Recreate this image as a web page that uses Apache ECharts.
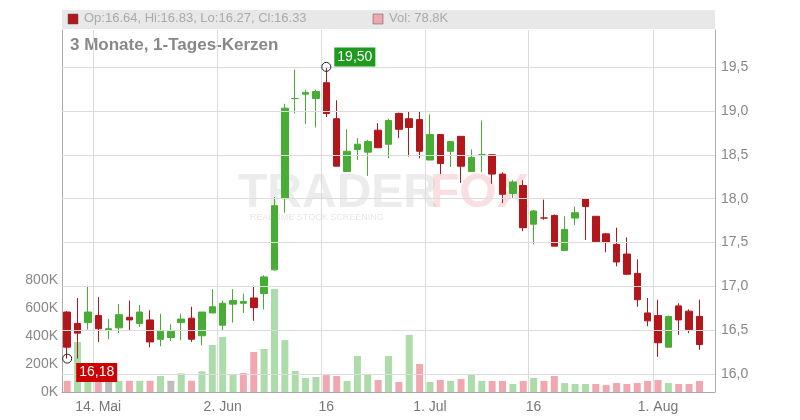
<!DOCTYPE html>
<html><head><meta charset="utf-8">
<script src="https://cdn.jsdelivr.net/npm/echarts@6/dist/echarts.min.js"></script>
<style>html,body{margin:0;padding:0;background:#fff}#c{width:800px;height:420px}</style>
</head><body><div id="c"></div>
<script>
// [open, close, low, high]
const opens  = [16.71,16.58,16.59,16.67,16.50,16.53,16.65,16.58,16.62,16.40,16.42,16.59,16.64,16.44,16.70,16.56,16.80,16.81,16.87,16.92,17.19,18.00,19.14,19.19,19.14,19.32,18.91,18.31,18.56,18.53,18.78,18.62,18.97,18.91,18.90,18.44,18.73,18.54,18.71,18.31,18.50,18.50,18.28,18.06,18.15,17.71,17.78,17.81,17.41,17.78,18.00,17.80,17.60,17.48,17.37,17.15,16.70,16.67,16.31,16.78,16.72,16.66];
const closes = [16.31,16.47,16.71,16.52,16.52,16.68,16.62,16.71,16.37,16.49,16.49,16.63,16.40,16.71,16.77,16.81,16.84,16.83,16.76,17.11,17.92,19.03,19.14,19.21,19.22,18.97,18.37,18.54,18.62,18.65,18.58,18.89,18.79,18.81,18.54,18.73,18.40,18.65,18.37,18.47,18.50,18.28,18.05,18.19,17.67,17.86,17.78,17.46,17.65,17.84,17.91,17.51,17.50,17.28,17.14,16.85,16.61,16.36,16.66,16.62,16.51,16.34];
const lows   = [16.18,16.18,16.51,16.37,16.40,16.47,16.50,16.54,16.31,16.32,16.38,16.39,16.37,16.33,16.70,16.50,16.59,16.70,16.61,16.74,17.18,17.84,18.97,18.85,18.81,18.93,18.37,18.31,18.44,18.26,18.58,18.46,18.69,18.48,18.46,18.44,18.28,18.36,18.18,18.31,18.30,18.17,17.95,18.01,17.63,17.48,17.76,17.46,17.41,17.70,17.53,17.51,17.39,17.23,17.13,16.77,16.55,16.20,16.31,16.45,16.47,16.28];
const highs  = [16.72,16.87,17.01,16.88,16.63,16.80,16.84,16.79,16.73,16.69,16.57,16.69,16.77,16.71,16.97,16.84,16.97,16.92,17.01,17.13,18.02,19.08,19.47,19.24,19.24,19.50,19.12,18.79,18.69,18.67,18.86,18.91,18.98,18.99,18.99,18.96,18.73,18.65,18.71,18.56,18.89,18.50,18.30,18.21,18.21,17.87,17.99,17.82,17.80,17.91,18.00,17.80,17.61,17.67,17.56,17.31,16.87,16.85,16.67,16.81,16.74,16.85];
const volumes = [80,357,98,80,80,79,80,80,80,114,80,133,80,148,336,393,121,136,286,307,736,371,150,100,107,121,114,79,257,124,86,257,71,407,200,71,86,79,93,129,79,79,79,57,79,100,79,114,64,57,57,57,50,64,57,64,79,86,64,57,57,79];
const tickLabels = {3:'14. Mai',15:'2. Jun',25:'16',35:'1. Jul',45:'16',57:'1. Aug'};
const priceTicks = [16,16.5,17,17.5,18,18.5,19,19.5];
// one extra empty slot at the right end
const categories = opens.map((_, i) => 'T' + i).concat(['T' + opens.length]);

const RED='#b3161b', GREEN='#48ad34';
const candle = opens.map((o,i)=>[o,closes[i],lows[i],highs[i]]);
const volData = volumes.map((v,i)=>{
  let c='#bdbdbd';
  if(i>0){ if(closes[i]>closes[i-1]+0.005) c='#acdcaa'; else if(closes[i]<closes[i-1]-0.005) c='#f0a7b0'; }
  else c='#f0a7b0';
  return {value:v*1000,itemStyle:{color:c}};
});
let hiIdx=0, loIdx=0;
highs.forEach((h,i)=>{if(h>highs[hiIdx])hiIdx=i;});
lows.forEach((l,i)=>{if(l<lows[loIdx])loIdx=i;});
const fmt = v => v.toFixed(2).replace('.',',');

const chart = echarts.init(document.getElementById('c'));
const grid={left:62,right:85,top:30,bottom:28};
chart.setOption({
  animation:false,
  textStyle:{fontFamily:'Liberation Sans, Arial, sans-serif'},
  grid:[grid],
  xAxis:[{type:'category',data:categories,boundaryGap:true,
    axisLine:{lineStyle:{color:'#aaa'}},
    axisTick:{interval:(i)=>tickLabels[i]!==undefined,alignWithLabel:true,lineStyle:{color:'#aaa'},length:4},
    axisLabel:{interval:(i)=>tickLabels[i]!==undefined,formatter:(v,i)=>tickLabels[i]||'',color:'#777',fontSize:14,margin:8},
    splitLine:{show:true,interval:(i)=>tickLabels[i]!==undefined,lineStyle:{color:'#dcdcdc'}}}],
  yAxis:[
    {type:'value',position:'right',min:15.8,max:19.92,interval:0.1,scale:true,
      axisLine:{show:true,lineStyle:{color:'#aaa'}},axisTick:{show:false},splitLine:{show:false},
      axisLabel:{color:'#888',fontSize:14,margin:6,
        formatter:v=>{const r=Math.round(v*10)/10; return (Math.abs(r*2-Math.round(r*2))<1e-6 && r>=16 && r<=19.5)? r.toFixed(1).replace('.',','):'';}}},
    {type:'value',position:'left',min:0,max:2585700,interval:200000,
      axisLine:{show:true,lineStyle:{color:'#aaa'}},splitLine:{show:false},
      axisTick:{inside:true,length:4,lineStyle:{color:'#aaa'}},
      axisLabel:{color:'#888',fontSize:14,margin:4,formatter:v=>v<=800000?(v/1000)+'K':''}}
  ],
  series:[
    {type:'bar',yAxisIndex:1,data:volData,barWidth:7,z:1},
    {type:'candlestick',yAxisIndex:0,data:candle,barWidth:7,z:3,
      itemStyle:{color:GREEN,color0:RED,borderColor:GREEN,borderColor0:RED,borderWidth:1},
      markLine:{silent:true,symbol:'none',label:{show:false},lineStyle:{color:'#dcdcdc',type:'solid',width:1},
        data:priceTicks.map(p=>({yAxis:p}))},
      markPoint:{symbol:'circle',symbolSize:9,
        itemStyle:{color:'rgba(255,255,255,0)',borderColor:'#222',borderWidth:1},
        data:[
          {coord:[hiIdx,highs[hiIdx]],label:{show:true,formatter:fmt(highs[hiIdx]),position:'right',offset:[-2,-10],
            backgroundColor:'#1e9a1e',color:'#fff',fontSize:14,padding:[3,3,2,3]}},
          {coord:[loIdx,lows[loIdx]],label:{show:true,formatter:fmt(lows[loIdx]),position:'right',offset:[-1,14],
            backgroundColor:'#cc0000',color:'#fff',fontSize:14,padding:[3,3,2,3]}}
        ]}}
  ],
  graphic:[
    {type:'rect',shape:{x:62,y:10,width:653,height:19},style:{fill:'#e8e8e8'},z:0},
    {type:'rect',shape:{x:68,y:14,width:10,height:10},style:{fill:RED,stroke:'#555',lineWidth:0.5}},
    {type:'text',x:84,y:12,style:{text:'Op:16.64, Hi:16.83, Lo:16.27, Cl:16.33',fill:'#aaa',font:'13px Liberation Sans, Arial'}},
    {type:'rect',shape:{x:373,y:14,width:10,height:10},style:{fill:'#f0a7b0',stroke:'#555',lineWidth:0.5}},
    {type:'text',x:389,y:12,style:{text:'Vol: 78.8K',fill:'#aaa',font:'13px Liberation Sans, Arial'}},
    {type:'text',x:70,y:37,style:{text:'3 Monate, 1-Tages-Kerzen',fill:'#888',font:'bold 17px Liberation Sans, Arial'}},
    {type:'text',x:238,y:170,z:0,style:{text:'TRADER',fill:'rgba(200,200,200,0.35)',font:'bold 48px Liberation Sans, Arial'}},
    {type:'text',x:430,y:170,z:0,style:{text:'FOX',fill:'rgba(240,150,160,0.3)',font:'bold 48px Liberation Sans, Arial'}},
    {type:'text',x:250,y:213,z:0,style:{text:'REALTIME STOCK SCREENING',fill:'rgba(200,200,200,0.45)',font:'9px Liberation Sans, Arial'}}
  ]
});
</script></body></html>
